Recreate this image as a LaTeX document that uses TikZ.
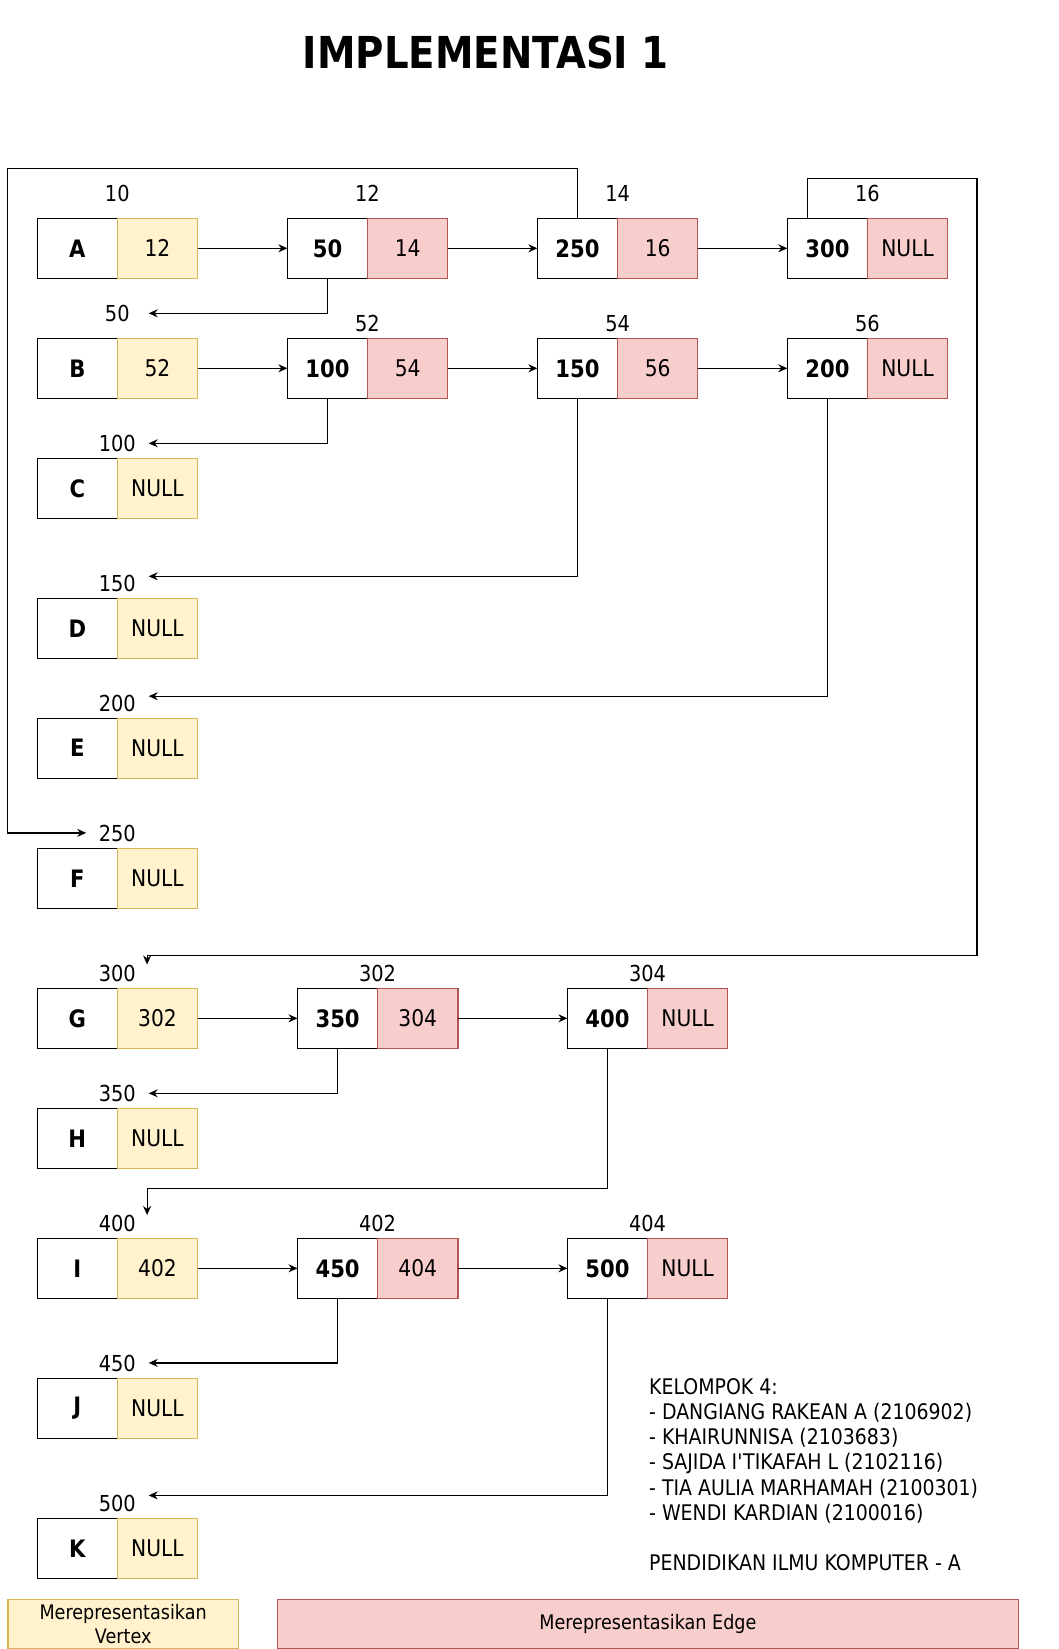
\documentclass[tikz,border=0pt]{standalone}
\usepackage{fontspec}
\setmainfont{DejaVu Sans}[FakeStretch=0.88]
\usetikzlibrary{arrows.meta,calc}
\definecolor{yfill}{HTML}{FFF2CC}
\definecolor{ydraw}{HTML}{D6B656}
\definecolor{rfill}{HTML}{F8CECC}
\definecolor{rdraw}{HTML}{B85450}
\newcommand\myfs[1]{\fontsize{#1}{#1}\selectfont}
% vertex row: name, top y, value
\newcommand\vtx[3]{%
  \node[wcell] (#1) at (37.2,#2) {#1};
  \node[vcell] (#1v) at (#1.east) {#3};}
% edge node: name, x, top y, value, next
\newcommand\edg[5]{%
  \node[wcell] (#1) at (#2,#3) {#4};
  \node[ecell] (#1r) at (#1.east) {#5};}
\begin{document}
\begin{tikzpicture}[x=1pt,y=-1pt,
  cellbox/.style={minimum width=80.2pt,minimum height=60pt,inner sep=0pt,outer sep=0pt,line width=1.2pt},
  wcell/.style={cellbox,draw=black,fill=white,font=\myfs{24}\bfseries,anchor=north west},
  vcell/.style={cellbox,draw=ydraw,fill=yfill,font=\myfs{23},anchor=west},
  ecell/.style={cellbox,draw=rdraw,fill=rfill,font=\myfs{23},anchor=west},
  lbl/.style={font=\myfs{22},inner sep=0pt},
  arr/.style={line width=1.2pt,-{Stealth[length=9pt,width=8pt]}},
]
\useasboundingbox (0,0) rectangle (1059,1649);

\node[font=\myfs{44}\bfseries] (title) at (485.8,52.6) {IMPLEMENTASI 1};

% vertices
\vtx{A}{218.3}{12}
\vtx{B}{338.3}{52}
\vtx{C}{458.5}{NULL}
\vtx{D}{598.4}{NULL}
\vtx{E}{718.2}{NULL}
\vtx{F}{848.6}{NULL}
\vtx{G}{988.3}{302}
\vtx{H}{1108.3}{NULL}
\vtx{I}{1238.3}{402}
\vtx{J}{1378.6}{NULL}
\vtx{K}{1518.5}{NULL}

% edges
\edg{n50}{287.4}{218.3}{50}{14}
\edg{n250}{537.4}{218.3}{250}{16}
\edg{n300}{787.3}{218.3}{300}{NULL}
\edg{n100}{287.4}{338.3}{100}{54}
\edg{n150}{537.4}{338.3}{150}{56}
\edg{n200}{787.3}{338.3}{200}{NULL}
\edg{n350}{297.5}{988.3}{350}{304}
\edg{n400}{567.4}{988.3}{400}{NULL}
\edg{n450}{297.5}{1238.3}{450}{404}
\edg{n500}{567.4}{1238.3}{500}{NULL}

% address labels
\node[lbl] (l10) at (117.3,193.3) {10};
\node[lbl] (l12) at (367.5,193.3) {12};
\node[lbl] (l14) at (617.6,193.3) {14};
\node[lbl] (l16) at (867.4,193.3) {16};
\node[lbl] (l50) at (117.3,313.3) {50};
\node[lbl] (l52) at (367.5,323.3) {52};
\node[lbl] (l54) at (617.6,323.3) {54};
\node[lbl] (l56) at (867.4,323.3) {56};
\node[lbl] (l100) at (117.3,443.3) {100};
\node[lbl] (l150) at (117.3,583.4) {150};
\node[lbl] (l200) at (117.3,703.2) {200};
\node[lbl] (l250) at (117.3,833.3) {250};
\node[lbl] (l300) at (117.3,973.3) {300};
\node[lbl] (l302) at (377.5,973.3) {302};
\node[lbl] (l304) at (647.5,973.3) {304};
\node[lbl] (l350) at (117.3,1093.3) {350};
\node[lbl] (l400) at (117.3,1223.3) {400};
\node[lbl] (l402) at (377.5,1223.3) {402};
\node[lbl] (l404) at (647.5,1223.3) {404};
\node[lbl] (l450) at (117.3,1363.3) {450};
\node[lbl] (l500) at (117.3,1503.3) {500};

% horizontal list arrows
\draw[arr] (Av) -- (n50);
\draw[arr] (n50r) -- (n250);
\draw[arr] (n250r) -- (n300);
\draw[arr] (Bv) -- (n100);
\draw[arr] (n100r) -- (n150);
\draw[arr] (n150r) -- (n200);
\draw[arr] (Gv) -- (n350);
\draw[arr] (n350r) -- (n400);
\draw[arr] (Iv) -- (n450);
\draw[arr] (n450r) -- (n500);

% pointer arrows to vertex addresses
\coordinate (t50) at (148.7,313.3);
\coordinate (t100) at (148.7,443.3);
\coordinate (t150) at (148.7,576.3);
\coordinate (t200) at (148.7,696.2);
\coordinate (t350) at (148.7,1093.3);
\coordinate (t450) at (148.7,1362.9);
\coordinate (t500) at (148.7,1495.4);
\draw[arr] (n50.south) |- (t50);
\draw[arr] (n100.south) |- (t100);
\draw[arr] (n150.south) |- (t150);
\draw[arr] (n200.south) |- (t200);
\draw[arr] (n350.south) |- (t350);
\draw[arr] (n450.south) |- (t450);
\draw[arr] (n500.south) |- (t500);

\coordinate (f1) at (7.4,168.3);
\coordinate (t250) at (86.2,832.9);
\draw[arr] (n250.north) |- (f1) |- (t250);

\coordinate (g1) at (977,178.3);
\coordinate (g2) at (147.1,955.7);
\coordinate (t300) at (147.1,964.5);
\draw[arr] ([xshift=-20pt]n300.north) |- (g1) |- (g2) -- (t300);

\coordinate (h1) at (147.1,1188.3);
\coordinate (t400) at (147.1,1215);
\draw[arr] (n400.south) |- (h1) -- (t400);

% group text
\node[anchor=north west,inner sep=0pt,align=left,font=\fontsize{21.5}{25.2}\selectfont] (grp) at (649,1378.2)
 {KELOMPOK 4:\\
  - DANGIANG RAKEAN A (2106902)\\
  - KHAIRUNNISA (2103683)\\
  - SAJIDA I\textquotesingle TIKAFAH L (2102116)\\
  - TIA AULIA MARHAMAH (2100301)\\
  - WENDI KARDIAN (2100016)\\[25.2pt]
  PENDIDIKAN ILMU KOMPUTER - A};

% legend
\node[draw=ydraw,fill=yfill,line width=1.2pt,minimum width=230.3pt,minimum height=49.4pt,
  anchor=north west,inner sep=0pt,align=center,font=\fontsize{20}{24}\selectfont] (legv) at (7.4,1598.5)
  {Merepresentasikan\\Vertex};
\node[draw=rdraw,fill=rfill,line width=1.2pt,minimum width=741.4pt,minimum height=49.4pt,
  anchor=north west,inner sep=0pt,font=\myfs{20}] (lege) at (276.6,1598.5)
  {Merepresentasikan Edge};
\end{tikzpicture}
\end{document}
